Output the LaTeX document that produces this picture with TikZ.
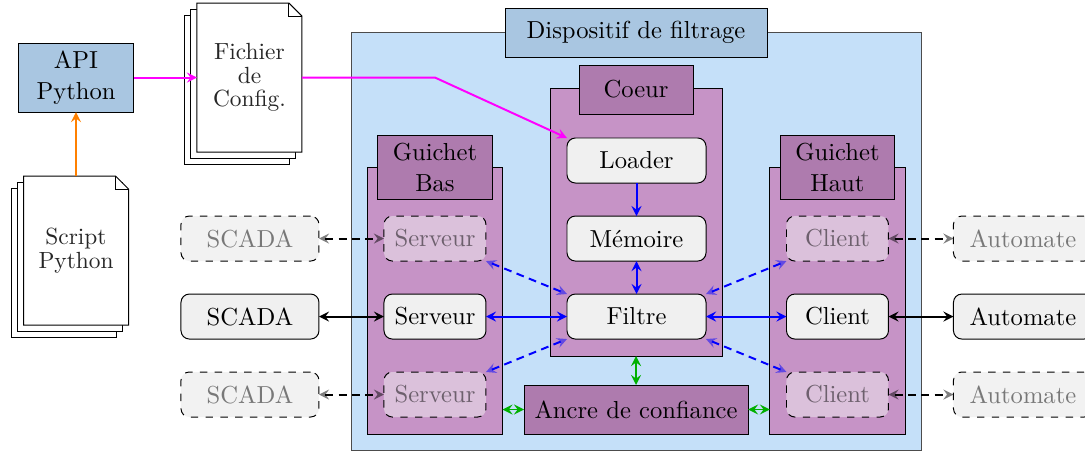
\documentclass[tikz,border=0pt]{standalone}
\usepackage{amsmath}
\usetikzlibrary{arrows}
\definecolor{bleuCadre}{HTML}{C5E0F9}
\definecolor{bleuTitre}{HTML}{A9C6E1}
\definecolor{violetPanneau}{HTML}{C693C6}
\definecolor{violetTitre}{HTML}{AE7BAE}
\definecolor{grisBoite}{HTML}{F0F0F0}
\definecolor{vertLien}{HTML}{00B000}
\definecolor{magentaLien}{HTML}{FF00FF}
\tikzset{
	>=stealth,
	every node/.style={inner sep=0pt, outer sep=0pt, align=center},
	cadre/.style={draw=black!70, fill=bleuCadre, minimum width=8.143cm, minimum height=5.971cm},
	titrebleu/.style={draw, fill=bleuTitre, font=\linespread{1.05}\selectfont},
	titreviolet/.style={draw, fill=violetTitre, font=\linespread{1.05}\selectfont},
	panneau/.style={draw, fill=violetPanneau},
	boite/.style={draw, rounded corners=3.4pt, fill=grisBoite, minimum height=0.643cm},
	fantome/.style={boite, dashed, fill opacity=0.5, text opacity=0.5},
	fantomeExt/.style={fantome, fill=black!10},
	feuille/.style={draw, fill=white},
	texteDoc/.style={minimum width=1.5cm, minimum height=2.129cm, text=black!85, font=\fontsize{9.5}{9.6}\selectfont},
	lienBleu/.style={blue, line width=0.8pt},
	lienNoir/.style={black, line width=0.8pt},
	lienVert/.style={vertLien, line width=0.8pt},
	lienMagenta/.style={magentaLien, line width=0.8pt},
	tirets/.style={dash pattern=on 3.2pt off 2.2pt, fill opacity=0.5},
}
% pile de trois feuilles : nom, x, y, texte
\newcommand{\pileDoc}[4]{
	\draw[feuille] (#2-0.928,#3-1.242) rectangle (#2+0.572,#3+0.887);
	\draw[feuille] (#2-0.839,#3-1.153) rectangle (#2+0.661,#3+0.976);
	\draw[feuille] (#2-0.75,#3-1.064) -- (#2-0.75,#3+1.064) -- (#2+0.564,#3+1.064) -- (#2+0.75,#3+0.878) -- (#2+0.75,#3-1.064) -- cycle;
	\draw (#2+0.564,#3+1.064) -- (#2+0.564,#3+0.878) -- (#2+0.75,#3+0.878);
	\node[texteDoc] (#1) at (#2,#3) {#4};
}

\begin{document}
\begin{tikzpicture}
	\useasboundingbox (0,0) rectangle (15.5,6.429);

	\node[cadre] (cadre) at (9.086,2.986) {};
	\node[panneau, minimum width=2.457cm, minimum height=3.829cm] (panCoeur) at (9.086,3.257) {};
	\node[panneau, minimum width=1.929cm, minimum height=3.814cm] (panBas) at (6.214,2.136) {};
	\node[panneau, minimum width=1.929cm, minimum height=3.814cm] (panHaut) at (11.964,2.136) {};

	\node[titrebleu, minimum width=3.743cm, minimum height=0.7cm] (titre) at (9.086,5.964) {Dispositif de filtrage};
	\node[titreviolet, minimum width=1.629cm, minimum height=0.7cm] (coeur) at (9.086,5.15) {Coeur};
	\node[titreviolet, minimum width=1.629cm, minimum height=0.914cm] (bas) at (6.214,4.043) {Guichet\\Bas};
	\node[titreviolet, minimum width=1.629cm, minimum height=0.914cm] (haut) at (11.964,4.043) {Guichet\\Haut};
	\node[titrebleu, minimum width=1.643cm, minimum height=0.986cm] (api) at (1.086,5.321) {API\\Python};

	\pileDoc{config}{3.564}{5.321}{Fichier\\de\\Config.}
	\pileDoc{script}{1.086}{2.85}{Script\\Python}

	\node[boite, minimum width=1.986cm] (loader) at (9.093,4.136) {Loader};
	\node[boite, minimum width=1.986cm] (memoire) at (9.093,3.021) {Mémoire};
	\node[boite, minimum width=1.986cm] (filtre) at (9.093,1.907) {Filtre};
	\node[titreviolet, minimum width=3.2cm, minimum height=0.7cm] (ancre) at (9.086,0.579) {Ancre de confiance};

	\node[fantome, minimum width=1.457cm] (serveurA) at (6.214,3.021) {Serveur};
	\node[boite, minimum width=1.457cm] (serveurB) at (6.214,1.907) {Serveur};
	\node[fantome, minimum width=1.457cm] (serveurC) at (6.214,0.793) {Serveur};
	\node[fantome, minimum width=1.457cm] (clientA) at (11.964,3.021) {Client};
	\node[boite, minimum width=1.457cm] (clientB) at (11.964,1.907) {Client};
	\node[fantome, minimum width=1.457cm] (clientC) at (11.964,0.793) {Client};
	\node[fantomeExt, minimum width=1.971cm] (scadaA) at (3.571,3.021) {SCADA};
	\node[boite, minimum width=1.971cm] (scadaB) at (3.571,1.907) {SCADA};
	\node[fantomeExt, minimum width=1.971cm] (scadaC) at (3.571,0.793) {SCADA};
	\node[fantomeExt, minimum width=1.986cm] (automateA) at (14.614,3.021) {Automate};
	\node[boite, minimum width=1.986cm] (automateB) at (14.614,1.907) {Automate};
	\node[fantomeExt, minimum width=1.986cm] (automateC) at (14.614,0.793) {Automate};

	\coordinate (coude) at (6.214,5.321);

	\draw[<->, lienBleu, tirets] (serveurA.south east) -- (filtre.north west);
	\draw[<->, lienBleu, tirets] (serveurC.north east) -- (filtre.south west);
	\draw[<->, lienBleu, tirets] (clientA.south west) -- (filtre.north east);
	\draw[<->, lienBleu, tirets] (clientC.north west) -- (filtre.south east);
	\draw[<->, lienNoir, tirets] (scadaA) -- (serveurA);
	\draw[<->, lienNoir, tirets] (scadaC) -- (serveurC);
	\draw[<->, lienNoir, tirets] (clientA) -- (automateA);
	\draw[<->, lienNoir, tirets] (clientC) -- (automateC);

	\draw[->, orange, line width=0.8pt] (script.north) -- (api.south);
	\draw[->, lienMagenta] (api.east) -- (config.west);
	\draw[->, lienMagenta] (config.east) -- (coude) -- (loader.north west);
	\draw[->, lienBleu] (loader) -- (memoire);
	\draw[<->, lienBleu] (memoire) -- (filtre);
	\draw[<->, lienBleu] (serveurB) -- (filtre);
	\draw[<->, lienBleu] (filtre) -- (clientB);
	\draw[<->, lienNoir] (scadaB) -- (serveurB);
	\draw[<->, lienNoir] (clientB) -- (automateB);
	\draw[<->, lienVert] (panCoeur.south) -- (ancre.north);
	\draw[<->, lienVert] (ancre.west) -- (ancre.west -| panBas.east);
	\draw[<->, lienVert] (ancre.east) -- (ancre.east -| panHaut.west);
\end{tikzpicture}
\end{document}
